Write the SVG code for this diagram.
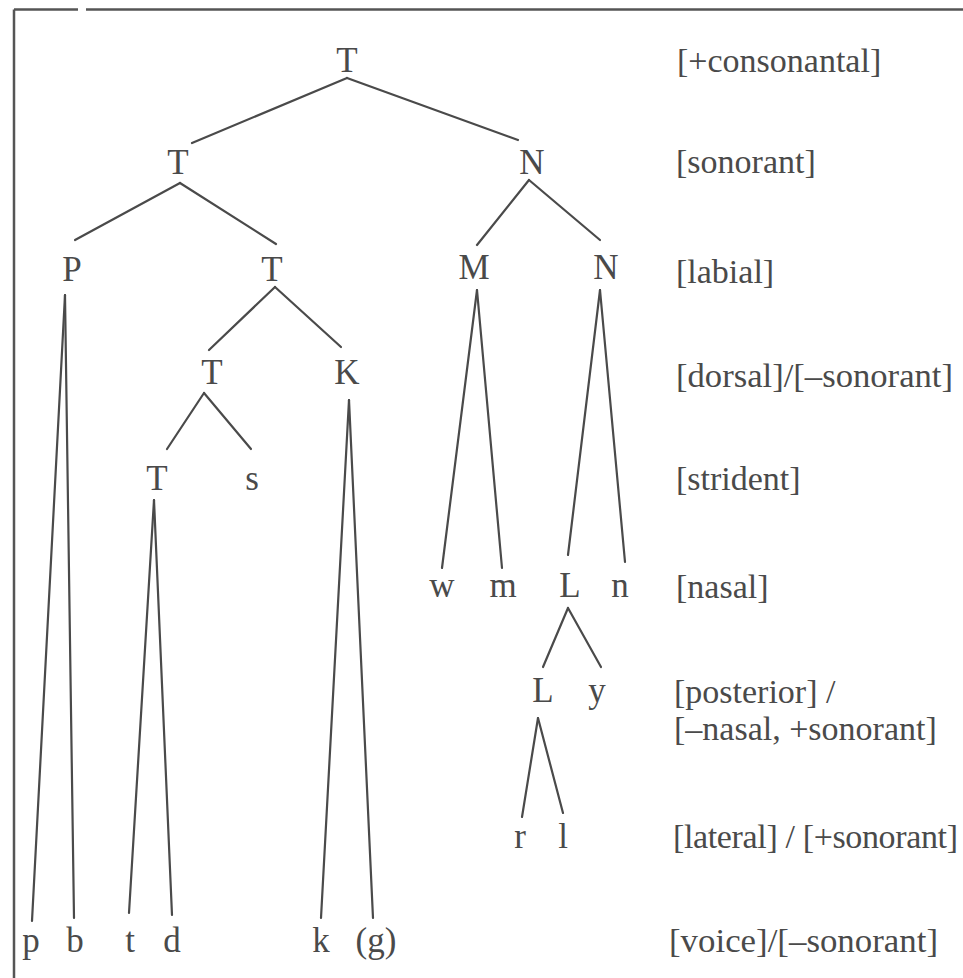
<svg xmlns="http://www.w3.org/2000/svg" width="963" height="978" viewBox="0 0 963 978">
<style>
text{font-family:"Liberation Serif","Times New Roman",serif;font-size:34px;fill:#4a4a4a}
.n{text-anchor:middle;font-size:35px}
.lab{text-anchor:start}
.c line{stroke:#4a4a4a;stroke-width:2.2;stroke-linecap:round}
.frame{stroke:#555;stroke-width:2.5;fill:none}
</style>
<rect width="963" height="978" fill="#ffffff"/>
<g id="frame">
<line class="frame" x1="14" y1="9.5" x2="78" y2="9.5"/>
<line class="frame" x1="86" y1="9.5" x2="963" y2="9.5"/>
<line class="frame" x1="14" y1="9.5" x2="14" y2="978"/>
</g>
<g class="c" id="connectors">
<line x1="347" y1="78" x2="192" y2="143"/>
<line x1="347" y1="78" x2="518" y2="140"/>
<line x1="180" y1="183" x2="75" y2="240"/>
<line x1="180" y1="183" x2="276" y2="244"/>
<line x1="529" y1="180" x2="477" y2="245"/>
<line x1="529" y1="180" x2="600" y2="240"/>
<line x1="65" y1="295" x2="32" y2="921"/>
<line x1="65" y1="295" x2="74" y2="918"/>
<line x1="275" y1="287" x2="209" y2="350"/>
<line x1="275" y1="287" x2="341" y2="347"/>
<line x1="204" y1="393" x2="167" y2="449"/>
<line x1="204" y1="393" x2="251" y2="449"/>
<line x1="349" y1="400" x2="321" y2="918"/>
<line x1="349" y1="400" x2="373" y2="918"/>
<line x1="154" y1="500" x2="129" y2="913"/>
<line x1="154" y1="500" x2="172" y2="915"/>
<line x1="477" y1="290" x2="442" y2="568"/>
<line x1="477" y1="290" x2="502" y2="568"/>
<line x1="600" y1="290" x2="568" y2="555"/>
<line x1="600" y1="290" x2="625" y2="562"/>
<line x1="568" y1="608" x2="543" y2="667"/>
<line x1="568" y1="608" x2="601" y2="667"/>
<line x1="538" y1="718" x2="522" y2="817"/>
<line x1="538" y1="718" x2="563" y2="813"/>
</g>
<g id="n-root"><text class="n" x="347" y="72">T</text></g>
<g id="n-T1"><text class="n" x="178" y="174">T</text></g>
<g id="n-N1"><text class="n" x="532" y="174">N</text></g>
<g id="n-P"><text class="n" x="72" y="281">P</text></g>
<g id="n-T2"><text class="n" x="272" y="281">T</text></g>
<g id="n-M"><text class="n" x="474" y="279">M</text></g>
<g id="n-N2"><text class="n" x="606" y="279">N</text></g>
<g id="n-T3"><text class="n" x="212" y="384">T</text></g>
<g id="n-K"><text class="n" x="347" y="384">K</text></g>
<g id="n-T4"><text class="n" x="157" y="490">T</text></g>
<g id="n-s"><text class="n" x="252" y="490">s</text></g>
<g id="n-w"><text class="n" x="442" y="597">w</text></g>
<g id="n-m"><text class="n" x="503" y="597">m</text></g>
<g id="n-L1"><text class="n" x="570" y="597">L</text></g>
<g id="n-n"><text class="n" x="620" y="597">n</text></g>
<g id="n-L2"><text class="n" x="543" y="702">L</text></g>
<g id="n-y"><text class="n" x="597" y="702">y</text></g>
<g id="n-r"><text class="n" x="520" y="848">r</text></g>
<g id="n-l"><text class="n" x="563" y="848">l</text></g>
<g id="n-p"><text class="n" x="31" y="952">p</text></g>
<g id="n-b"><text class="n" x="75" y="952">b</text></g>
<g id="n-t"><text class="n" x="130" y="952">t</text></g>
<g id="n-d"><text class="n" x="172" y="952">d</text></g>
<g id="n-k"><text class="n" x="321" y="952">k</text></g>
<g id="n-g"><text class="n" x="376" y="952">(g)</text></g>
<g id="labels">
<text class="lab" x="677" y="72">[+consonantal]</text>
<text class="lab" x="676" y="173">[sonorant]</text>
<text class="lab" x="676" y="283">[labial]</text>
<text class="lab" x="676" y="387" textLength="277" lengthAdjust="spacingAndGlyphs">[dorsal]/[–sonorant]</text>
<text class="lab" x="676" y="490">[strident]</text>
<text class="lab" x="676" y="598">[nasal]</text>
<text class="lab" x="674" y="703">[posterior] /</text>
<text class="lab" x="674" y="740">[–nasal, +sonorant]</text>
<text class="lab" x="673" y="848" textLength="285" lengthAdjust="spacing">[lateral] / [+sonorant]</text>
<text class="lab" x="669" y="952" textLength="269" lengthAdjust="spacingAndGlyphs">[voice]/[–sonorant]</text>
</g>
</svg>
